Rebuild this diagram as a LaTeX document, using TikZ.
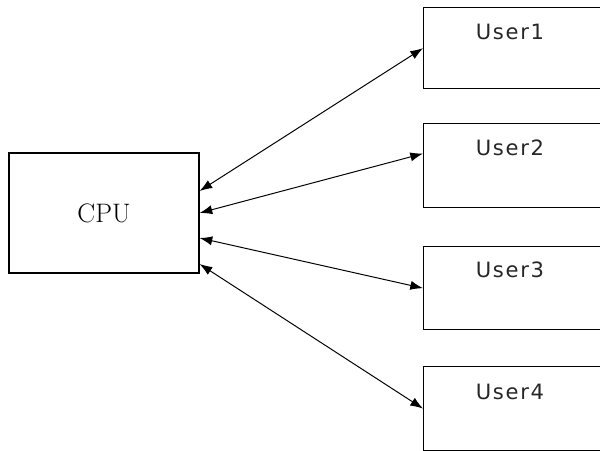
\documentclass[tikz,border=0pt]{standalone}
\usepackage{fontspec}
\newfontfamily\userfont[LetterSpace=8]{DejaVu Sans}
\usetikzlibrary{arrows.meta}
\usetikzlibrary{calc}

\tikzset{
  box/.style={draw, line width=0.8pt, rectangle, inner sep=0pt},
  usertext/.style={font=\userfont\fontsize{15}{17}\selectfont, text=black!85},
  link/.style={line width=0.7pt, {Latex[length=9pt,width=6.5pt]}-{Latex[length=9pt,width=6.5pt]}}
}

\begin{document}
\begin{tikzpicture}[x=0.025cm, y=-0.025cm]
\useasboundingbox (0,0) rectangle (600,450);
\clip (0,0) rectangle (600,450);
\node[box, minimum width=4.75cm, minimum height=3cm,
      font=\fontsize{19}{22}\selectfont] (cpu) at (104,213) {CPU};
\node[box, anchor=north west, minimum width=4.75cm, minimum height=2.03cm] (user1) at (423,7) {};
\node[box, anchor=north west, minimum width=4.75cm, minimum height=2.1cm] (user2) at (423,123) {};
\node[box, anchor=north west, minimum width=4.75cm, minimum height=2.08cm] (user3) at (423,246) {};
\node[box, anchor=north west, minimum width=4.75cm, minimum height=2.1cm] (user4) at (423,366) {};
\node[usertext] (name1) at ($(user1.north west)+(87,25)$) {User1};
\node[usertext] (name2) at ($(user2.north west)+(87,25)$) {User2};
\node[usertext] (name3) at ($(user3.north west)+(87,24)$) {User3};
\node[usertext] (name4) at ($(user4.north west)+(87,26)$) {User4};
\draw[link] ($(cpu.east)+(0,-22)$) -- (user1.west);
\draw[link] (cpu.east) -- ($(user2.west)+(0,-12)$);
\draw[link] ($(cpu.east)+(0,25)$) -- (user3.west);
\draw[link] ($(cpu.east)+(0,51)$) -- (user4.west);
\end{tikzpicture}
\end{document}
